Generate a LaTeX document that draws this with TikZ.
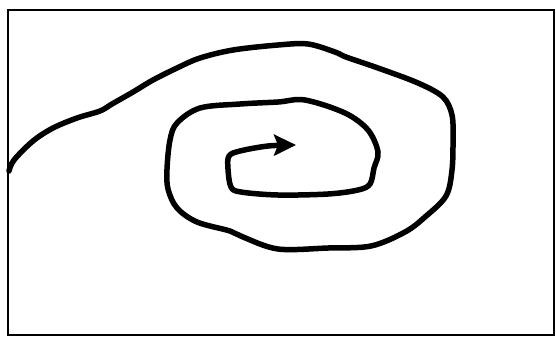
\documentclass[tikz,border=0pt]{standalone}
\usetikzlibrary{arrows.meta}
\begin{document}
\begin{tikzpicture}[x=1pt,y=-1pt,
  frame/.style={draw=black,line width=2.8pt},
  spiral/.style={draw=black,line width=5.5pt,line cap=round,line join=round},
  tip/.style={-{Stealth[length=22pt,width=21pt,inset=4pt]}}]
\useasboundingbox (0,0) rectangle (556,338);
\draw[frame] (8,10) rectangle (554,335);
\coordinate (start) at (9,171);
\coordinate (end) at (296,145);
\draw[spiral,tip] plot[smooth,tension=0.55] coordinates {
  (start) (14,160) (33,141) (53,128) (77,118) (100,111) (112,104)
  (133,92) (153,80) (177,68) (200,58) (233,50) (278,45) (308,44)
  (335,52) (346,57) (378,68) (418,83) (443,97) (452,115) (453,140)
  (452,170) (446,196) (425,217) (405,232) (371,246) (328,248) (278,249)
  (243,237) (230,231) (197,222) (177,208) (168,189) (167,169)
  (170,140) (177,123) (200,108) (240,104) (278,102) (305,100)
  (345,113) (368,130) (378,152) (374,168) (370,184) (358,190)
  (328,194) (278,195) (241,192) (231,187) (228,169) (229,156)
  (240,151) (268,146) (end)};
\end{tikzpicture}
\end{document}
